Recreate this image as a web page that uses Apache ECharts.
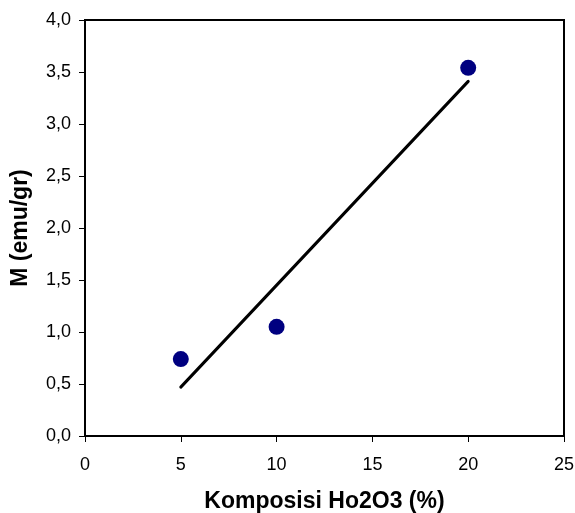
<!DOCTYPE html>
<html>
<head>
<meta charset="utf-8">
<title>M vs Komposisi Ho2O3</title>
<script src="https://cdn.jsdelivr.net/npm/echarts@6/dist/echarts.min.js"></script>
<style>
  html, body { margin: 0; padding: 0; background: #fff; }
  #chart { width: 575px; height: 513px; }
</style>
</head>
<body>
<div id="chart"></div>
<script>
// measured points
var komposisi = [5, 10, 20];
var magnet = [0.74, 1.05, 3.54];
// linear trendline, end points
var trendX = [5, 20];
var trendY = [0.47, 3.41];

var fmt = function (v) { return v.toFixed(1).replace('.', ','); };

var chart = echarts.init(document.getElementById('chart'));

var option = {
    animation: false,
    grid: {
        left: 85, right: 11, top: 20, bottom: 77,
        outerBoundsMode: 'none',
        show: true, borderColor: '#000', borderWidth: 2, backgroundColor: '#fff'
    },
    xAxis: {
        type: 'value', min: 0, max: 25, interval: 5,
        name: 'Komposisi Ho2O3 (%)',
        nameLocation: 'middle', nameGap: 54,
        nameTextStyle: { fontFamily: 'Liberation Sans', fontWeight: 'bold', fontSize: 23, color: '#000' },
        axisLine: { lineStyle: { color: '#000', width: 2 } },
        axisTick: { show: true, length: 6, lineStyle: { color: '#000', width: 1 } },
        axisLabel: { fontFamily: 'Liberation Sans', fontSize: 18, color: '#000', margin: 20 },
        splitLine: { show: false }
    },
    yAxis: {
        type: 'value', min: 0, max: 4, interval: 0.5,
        name: 'M (emu/gr)',
        nameLocation: 'middle', nameGap: 53,
        nameTextStyle: { fontFamily: 'Liberation Sans', fontWeight: 'bold', fontSize: 23, color: '#000' },
        axisLine: { lineStyle: { color: '#000', width: 2 } },
        axisTick: { show: true, length: 6, lineStyle: { color: '#000', width: 1 } },
        axisLabel: { fontFamily: 'Liberation Sans', fontSize: 18, color: '#000', margin: 14, formatter: fmt },
        splitLine: { show: false }
    },
    series: [
        {
            type: 'line',
            data: trendX.map(function (x, i) { return [x, trendY[i]]; }),
            showSymbol: false,
            lineStyle: { color: '#000', width: 3, cap: 'round' },
            z: 2
        },
        {
            type: 'scatter',
            data: komposisi.map(function (x, i) { return [x, magnet[i]]; }),
            symbol: 'circle', symbolSize: 16,
            itemStyle: { color: '#000080', opacity: 1 },
            z: 3
        }
    ]
};

chart.setOption(option);
</script>
</body>
</html>
